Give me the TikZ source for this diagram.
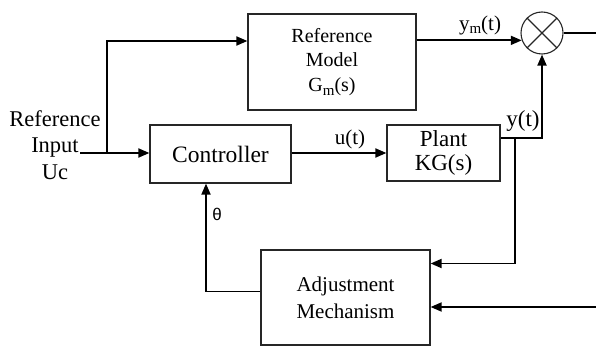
\documentclass[tikz,border=0pt]{standalone}
\usepackage{fontspec}
\setmainfont{Liberation Serif}
\newfontfamily\thetafont{Liberation Sans}
\usetikzlibrary{arrows.meta}
\newcommand{\subm}{\raisebox{-0.4ex}{\fontsize{15}{15}\selectfont m}}
\begin{document}
\begin{tikzpicture}[x=1pt,y=-1pt,
  blk/.style={draw=black!85,line width=1.2pt,rectangle,inner sep=0pt,align=center},
  conn/.style={line width=1.8pt,-{Triangle[length=11pt,width=9pt]}},
  wire/.style={line width=1.8pt},
  lbl/.style={inner sep=0pt,font=\fontsize{21}{24}\selectfont}]
\useasboundingbox (0,0) rectangle (596,347);
\node[blk,minimum width=168pt,minimum height=96pt,font=\fontsize{20}{24.5}\selectfont] (model) at (332,62) {Reference\\Model\\G\subm(s)};
\node[blk,minimum width=141pt,minimum height=58pt,font=\fontsize{23.5}{26}\selectfont] (ctrl) at (220.5,154) {Controller};
\node[blk,minimum width=113pt,minimum height=56pt,font=\fontsize{23}{24}\selectfont] (plant) at (443.5,153) {Plant\\KG(s)};
\node[blk,minimum width=169pt,minimum height=95pt,font=\fontsize{21}{27}\selectfont] (adj) at (345.5,297.5) {Adjustment\\Mechanism};
\node[draw=black!85,line width=1.1pt,circle,minimum size=42pt,inner sep=0pt] (sum) at (542,33) {};
\draw[line width=1.1pt,black!85] (sum.45) -- (sum.225) (sum.135) -- (sum.315);
\node[align=center,inner sep=0pt,font=\fontsize{22.5}{26.5}\selectfont] (inp) at (55,145) {Reference\\Input\\Uc};
\coordinate (uin) at (80,153);
\coordinate (br) at (107,153);
\coordinate (out) at (596,33);
\coordinate (tap) at (515,138);
\coordinate (ein) at (596,307);
\draw[conn] (uin) -- (ctrl.west |- uin);
\draw[conn] (br) |- ([yshift=21pt]model.west);
\draw[conn] (ctrl.east |- plant.west) -- (plant.west);
\draw[conn] (model.east |- sum.200) -- (sum.200);
\draw[wire] (sum.east) -- (out);
\draw[conn] ([yshift=15pt]plant.east) -| (sum.south);
\draw[conn] (tap) |- ([yshift=34pt]adj.east);
\draw[conn] (ein) -- (ein -| adj.east);
\draw[conn] ([yshift=6pt]adj.west) -| ([xshift=-14.5pt]ctrl.south);
\node[lbl] (ym) at (480,25) {y\subm(t)};
\node[lbl] (ut) at (350,139) {u(t)};
\node[lbl,font=\fontsize{23}{24}\selectfont] (yt) at (523,121) {y(t)};
\node[lbl,font=\thetafont\fontsize{17}{20}\selectfont] (th) at (217,214) {θ};
\end{tikzpicture}
\end{document}
